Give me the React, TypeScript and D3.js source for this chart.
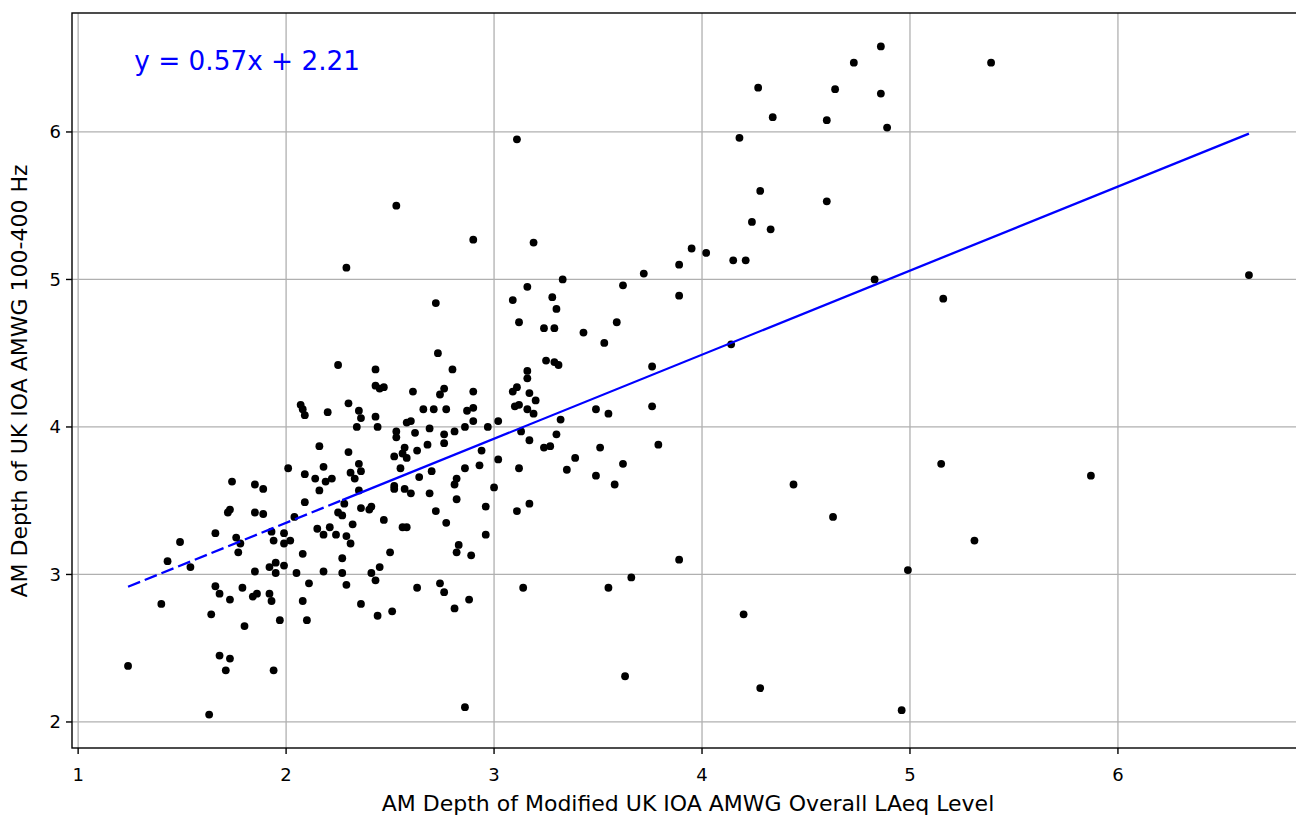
import React from "react";
import * as d3 from "d3";

const xValues = [
  1.24, 1.40, 1.43, 1.49, 1.54, 1.63, 1.64, 1.66, 1.66, 1.68, 1.68, 1.73, 1.71, 1.73, 1.72, 1.73, 1.74, 1.76, 1.78, 1.77,
  1.79, 1.80, 1.85, 1.89, 1.85, 1.89, 1.85, 1.84, 1.86, 1.92, 1.93, 1.93, 1.94, 1.92, 1.95, 1.99, 1.95, 1.94, 1.97, 1.99,
  1.99, 2.02, 2.01, 2.04, 2.05, 2.08,
  2.73, 2.25, 2.80, 2.43, 2.43, 2.45, 2.47, 2.61, 2.76, 2.74, 2.07, 2.08, 2.09, 2.20, 2.30, 2.35, 2.36, 2.43, 2.44, 2.34,
  2.66, 2.71, 2.77, 2.58, 2.60, 2.53, 2.53, 2.62, 2.69, 2.76, 2.76, 2.81, 2.16, 2.30, 2.52, 2.57, 2.58, 2.56, 2.63, 2.68,
  2.09, 2.18, 2.14, 2.16, 2.19, 2.22, 2.31, 2.33, 2.35, 2.36, 2.35, 2.55, 2.64, 2.70, 2.52, 2.52, 2.57, 2.60, 2.69, 2.81,
  2.82, 2.82, 2.09, 2.28, 2.25, 2.27, 2.36, 2.41, 2.40, 2.47, 2.72, 2.77, 2.15, 2.21, 2.32, 2.56, 2.58,
  2.18, 2.24, 2.29, 2.31, 2.08, 2.27, 2.50, 2.82, 2.83, 2.18, 2.27, 2.41, 2.43, 2.45, 2.11, 2.29, 2.10, 2.36, 2.44, 2.51,
  2.63, 2.74, 2.76, 2.81,
  2.53, 2.29, 2.72,
  3.11, 2.90, 3.19, 3.33, 3.16, 3.62, 3.09, 3.28, 3.30, 3.12, 3.59, 3.24, 3.29, 3.43,
  3.53, 3.25, 3.29, 3.31, 3.16, 3.16, 3.09, 3.11, 3.17, 3.20, 2.90, 3.10, 3.12, 3.16, 3.19, 2.87, 2.90, 2.90, 3.02, 2.86,
  2.97, 3.13, 3.32, 3.49, 3.55, 3.17, 3.30, 3.24, 3.27, 2.94, 3.51, 3.02, 3.39, 3.35, 3.12, 2.93, 2.86, 3.62, 3.49, 3.58,
  3.00, 2.96, 3.11, 3.17,
  2.96, 2.89, 3.14, 3.55, 3.66, 2.88, 3.63, 2.86,
  4.86, 4.73, 5.39, 4.27, 4.64, 4.86, 4.34, 4.60, 4.89, 4.18, 4.28, 4.60, 4.24, 4.33, 3.95, 4.02, 3.89, 4.15, 4.21, 3.72,
  4.83, 3.89, 5.16,
  4.14, 3.76, 3.76, 3.79, 5.15, 5.87, 4.44, 4.63, 5.31, 3.89, 4.99, 4.20, 4.28, 4.96, 6.63,
];

const yValues = [
  2.38, 2.80, 3.09, 3.22, 3.05, 2.05, 2.73, 3.28, 2.92, 2.87, 2.45, 2.43, 2.35, 2.83, 3.42, 3.44, 3.63, 3.25, 3.21, 3.15,
  2.91, 2.65, 3.61, 3.58, 3.42, 3.41, 3.02, 2.85, 2.87, 2.87, 2.82, 3.29, 3.23, 3.05, 3.08, 3.06, 3.01, 2.35, 2.69, 3.28,
  3.21, 3.23, 3.72, 3.39, 3.01, 2.82,
  4.50, 4.42, 4.39, 4.39, 4.28, 4.26, 4.27, 4.24, 4.26, 4.22, 4.15, 4.12, 4.08, 4.10, 4.16, 4.11, 4.06, 4.07, 4.00, 4.00,
  4.12, 4.12, 4.12, 4.03, 4.04, 3.97, 3.93, 3.96, 3.99, 3.95, 3.89, 3.97, 3.87, 3.83, 3.80, 3.86, 3.79, 3.82, 3.84, 3.88,
  3.68, 3.73, 3.65, 3.57, 3.63, 3.65, 3.69, 3.65, 3.75, 3.70, 3.57, 3.72, 3.66, 3.70, 3.60, 3.58, 3.58, 3.55, 3.55, 3.61,
  3.65, 3.51, 3.49, 3.48, 3.42, 3.40, 3.45, 3.46, 3.44, 3.37, 3.43, 3.35, 3.31, 3.32, 3.34, 3.32, 3.32,
  3.27, 3.27, 3.26, 3.21, 3.14, 3.11, 3.15, 3.15, 3.20, 3.02, 3.01, 3.01, 2.96, 3.05, 2.94, 2.93, 2.69, 2.80, 2.72, 2.75,
  2.91, 2.94, 2.88, 2.77,
  5.50, 5.08, 4.84,
  5.95, 5.27, 5.25, 5.00, 4.95, 4.96, 4.86, 4.88, 4.80, 4.71, 4.71, 4.67, 4.67, 4.64,
  4.57, 4.45, 4.44, 4.42, 4.38, 4.33, 4.24, 4.27, 4.23, 4.18, 4.24, 4.14, 4.15, 4.12, 4.09, 4.11, 4.13, 4.04, 4.04, 4.00,
  4.00, 3.97, 4.05, 4.12, 4.09, 3.91, 3.95, 3.86, 3.87, 3.84, 3.86, 3.78, 3.79, 3.71, 3.72, 3.74, 3.72, 3.75, 3.67, 3.61,
  3.59, 3.46, 3.43, 3.48,
  3.27, 3.13, 2.91, 2.91, 2.98, 2.83, 2.31, 2.10,
  6.58, 6.47, 6.47, 6.30, 6.29, 6.26, 6.10, 6.08, 6.03, 5.96, 5.60, 5.53, 5.39, 5.34, 5.21, 5.18, 5.10, 5.13, 5.13, 5.04,
  5.00, 4.89, 4.87,
  4.56, 4.41, 4.14, 3.88, 3.75, 3.67, 3.61, 3.39, 3.23, 3.10, 3.03, 2.73, 2.23, 2.08, 5.03,
];

const xTicks = [1, 2, 3, 4, 5, 6];
const yTicks = [2, 3, 4, 5, 6];
const slope = 0.57;
const intercept = 2.21;
const dashedUntil = 2.27;
const equationLabel = "y = 0.57x + 2.21";
const xLabel = "AM Depth of Modified UK IOA AMWG Overall LAeq Level";
const yLabel = "AM Depth of UK IOA AMWG 100-400 Hz";

const W = 1296;
const H = 815;
const FONT = "DejaVu Sans, sans-serif";

export default function App() {
  const xMin = d3.min(xValues) as number;
  const xMax = d3.max(xValues) as number;
  const yMin = d3.min(yValues) as number;
  const yMax = d3.max(yValues) as number;
  const xPad = (xMax - xMin) * 0.05;
  const yPad = (yMax - yMin) * 0.05;

  const left = 72;
  const right = 1305;
  const top = 13;
  const bottom = 748;

  const x = d3.scaleLinear().domain([xMin - xPad, xMax + xPad]).range([left, right]);
  const y = d3.scaleLinear().domain([yMin - yPad, yMax + yPad]).range([bottom, top]);

  const points = xValues.map((v, i) => [v, yValues[i]] as [number, number]);
  const line = d3
    .line<number>()
    .x((d) => x(d))
    .y((d) => y(slope * d + intercept));

  const gridColor = "#b0b0b0";

  return (
    <svg
      width={W}
      height={H}
      style={{ position: "absolute", left: 0, top: 0, background: "#fff" }}
      fontFamily={FONT}
    >
      <rect x={0} y={0} width={W} height={H} fill="#fff" />
      <g>
        {xTicks.map((t) => (
          <line key={"gx" + t} x1={x(t)} x2={x(t)} y1={top} y2={bottom} stroke={gridColor} strokeWidth={1.3} />
        ))}
        {yTicks.map((t) => (
          <line key={"gy" + t} x1={left} x2={right} y1={y(t)} y2={y(t)} stroke={gridColor} strokeWidth={1.3} />
        ))}
      </g>
      <g>
        {points.map((p, i) => (
          <circle key={i} cx={x(p[0])} cy={y(p[1])} r={3.9} fill="#000" />
        ))}
      </g>
      <path d={line([xMin, dashedUntil]) || ""} fill="none" stroke="#0000ff" strokeWidth={2.3} strokeDasharray="13,5" />
      <path d={line([dashedUntil, xMax]) || ""} fill="none" stroke="#0000ff" strokeWidth={2.3} />
      <text x={x(1.27)} y={y(6.47)} fill="#0000ff" fontSize={26.3} dominantBaseline="middle">
        {equationLabel}
      </text>
      <rect x={left} y={top} width={right - left} height={bottom - top} fill="none" stroke="#000" strokeWidth={1.4} />
      <g>
        {xTicks.map((t) => (
          <g key={"tx" + t}>
            <line x1={x(t)} x2={x(t)} y1={bottom} y2={bottom + 6} stroke="#000" strokeWidth={1.4} />
            <text x={x(t)} y={bottom + 33} textAnchor="middle" fontSize={18} fill="#000">
              {t}
            </text>
          </g>
        ))}
        {yTicks.map((t) => (
          <g key={"ty" + t}>
            <line x1={left - 6} x2={left} y1={y(t)} y2={y(t)} stroke="#000" strokeWidth={1.4} />
            <text x={left - 11} y={y(t)} textAnchor="end" dominantBaseline="central" fontSize={18} fill="#000">
              {t}
            </text>
          </g>
        ))}
      </g>
      <text x={688} y={811} textAnchor="middle" fontSize={22} fill="#000">
        {xLabel}
      </text>
      <text
        transform={`translate(27, 381) rotate(-90)`}
        textAnchor="middle"
        fontSize={22}
        fill="#000"
      >
        {yLabel}
      </text>
    </svg>
  );
}
